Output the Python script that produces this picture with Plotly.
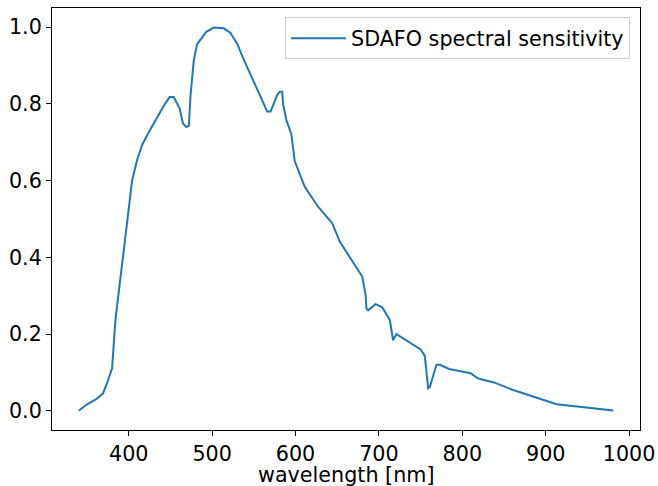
import plotly.graph_objects as go

wavelength = [340, 350, 360, 369, 374, 380, 384, 390, 398, 404, 410, 416, 425, 434, 442, 449, 454, 461, 465, 469, 472,
              474, 478, 482, 493, 502, 514, 522, 530, 537, 545, 549, 558, 566, 570, 578, 581, 584, 585, 589, 595, 599,
              611, 627, 644, 653, 680, 684, 685, 687, 696, 704, 713, 717, 721, 750, 755, 759, 761, 769, 773, 784, 810,
              819, 838, 860, 913, 981]
sensitivity = [0.0, 0.017, 0.029, 0.045, 0.072, 0.111, 0.237, 0.35, 0.497, 0.60, 0.654, 0.693, 0.73, 0.766, 0.795,
               0.818, 0.818, 0.788, 0.749, 0.740, 0.743, 0.82, 0.914, 0.956, 0.988, 0.999, 0.997, 0.985, 0.957, 0.92,
               0.879, 0.862, 0.819, 0.78, 0.78, 0.823, 0.832, 0.832, 0.80, 0.758, 0.721, 0.651, 0.584, 0.532, 0.489,
               0.441, 0.350, 0.302, 0.267, 0.262, 0.278, 0.27, 0.237, 0.184, 0.20, 0.16, 0.143, 0.059, 0.062, 0.12,
               0.12, 0.109, 0.098, 0.084, 0.074, 0.055, 0.017, 0.001]
x_ticks = [400, 500, 600, 700, 800, 900, 1000]
y_ticks = [0.0, 0.2, 0.4, 0.6, 0.8, 1.0]
series_name = "SDAFO spectral sensitivity"
x_title = "wavelength [nm]"

FONT = "DejaVu Sans"
FS = 20.7

fig = go.Figure()
fig.add_trace(go.Scatter(x=wavelength, y=sensitivity, mode="lines", name=series_name,
                         line=dict(color="#1f77b4", width=2)))

xpad = (max(wavelength) - min(wavelength)) * 0.05
fig.update_layout(
    width=658, height=486,
    margin=dict(l=52, r=18, t=8, b=56),
    paper_bgcolor="white", plot_bgcolor="white",
    font=dict(family=FONT, size=FS, color="black"),
    showlegend=True,
    legend=dict(x=0.983, y=0.978, xanchor="right", yanchor="top", itemwidth=55,
                bgcolor="rgba(255,255,255,0.8)", bordercolor="#cccccc", borderwidth=1,
                font=dict(family=FONT, size=FS, color="black")),
    annotations=[dict(text=x_title, xref="paper", yref="paper", x=0.5, y=-0.107,
                      xanchor="center", yanchor="middle", showarrow=False,
                      font=dict(family=FONT, size=FS, color="black"))],
)
fig.update_xaxes(range=[min(wavelength) - xpad, max(wavelength) + xpad],
                 tickvals=x_ticks, ticktext=[str(v) for v in x_ticks],
                 ticks="outside", ticklen=5, tickwidth=1, tickcolor="black",
                 showline=True, linecolor="black", linewidth=1, mirror=True,
                 showgrid=False, zeroline=False, automargin=False)
fig.update_yaxes(range=[-0.05, 1.05], tickvals=y_ticks, ticktext=[f"{v:.1f}" for v in y_ticks],
                 ticks="outside", ticklen=5, tickwidth=1, tickcolor="black",
                 showline=True, linecolor="black", linewidth=1, mirror=True,
                 showgrid=False, zeroline=False, automargin=False)

fig.write_html("out.html")
